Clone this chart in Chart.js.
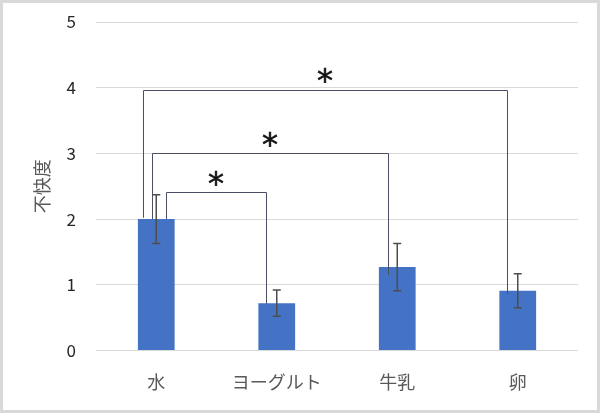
<!DOCTYPE html>
<html>
<head>
<meta charset="utf-8">
<script src="https://cdn.jsdelivr.net/npm/chart.js@4/dist/chart.umd.min.js"></script>
<style>
html,body{margin:0;padding:0;background:#fff;}
#wrap{width:600px;height:413px;position:relative;}
</style>
</head>
<body>
<div id="wrap"><canvas id="c" width="600" height="413"></canvas></div>
<script>
// ---- data ----
const categories = ['水', 'ヨーグルト', '牛乳', '卵'];
const values = [2.0, 0.72, 1.27, 0.91];
const errors = [0.37, 0.20, 0.36, 0.26];
const yTickValues = [0, 1, 2, 3, 4, 5];
const yTitle = '不快度';
// significance brackets: from category, to category, level, end values
const bracketFrom = [0, 0, 0];
const bracketTo = [1, 2, 3];
const bracketLevel = [2.41, 3.0, 3.97];
const bracketFromEnd = [2.0, 2.0, 2.02];
const bracketToEnd = [0.71, 1.15, 0.86];
const bracketLabel = ['*', '*', '*'];

// ---- style / layout config (not data) ----
const bracketFromShift = [0.08, -0.036, -0.11];   // in category units
const bracketToShift = [-0.09, -0.077, -0.09];

const FONT = "'Noto Sans CJK JP', 'Noto Sans', sans-serif";

const decor = {
  id: 'decor',
  beforeDraw(chart) {
    const ctx = chart.ctx;
    ctx.save();
    ctx.fillStyle = '#fff';
    ctx.fillRect(0, 0, chart.width, chart.height);
    ctx.restore();
  },
  afterDatasetsDraw(chart) {
    const ctx = chart.ctx;
    const xs = chart.scales.x, ys = chart.scales.y;
    const step = xs.getPixelForValue(1) - xs.getPixelForValue(0);
    // error bars
    ctx.save();
    ctx.strokeStyle = '#4d4d4d';
    ctx.lineWidth = 1.5;
    values.forEach((v, i) => {
      const x = xs.getPixelForValue(i);
      const yt = ys.getPixelForValue(v + errors[i]);
      const yb = ys.getPixelForValue(v - errors[i]);
      ctx.beginPath();
      ctx.moveTo(x, yt); ctx.lineTo(x, yb);
      ctx.moveTo(x - 4, yt); ctx.lineTo(x + 4, yt);
      ctx.moveTo(x - 4, yb); ctx.lineTo(x + 4, yb);
      ctx.stroke();
    });
    ctx.restore();
    // brackets
    ctx.save();
    ctx.strokeStyle = '#4a4f66';
    ctx.lineWidth = 1;
    bracketFrom.forEach((f, i) => {
      const x1 = xs.getPixelForValue(f) + bracketFromShift[i] * step;
      const x2 = xs.getPixelForValue(bracketTo[i]) + bracketToShift[i] * step;
      const yL = ys.getPixelForValue(bracketLevel[i]);
      const y1 = ys.getPixelForValue(bracketFromEnd[i]);
      const y2 = ys.getPixelForValue(bracketToEnd[i]);
      ctx.beginPath();
      ctx.moveTo(Math.round(x1) + 0.5, y1);
      ctx.lineTo(Math.round(x1) + 0.5, Math.round(yL) + 0.5);
      ctx.lineTo(Math.round(x2) + 0.5, Math.round(yL) + 0.5);
      ctx.lineTo(Math.round(x2) + 0.5, y2);
      ctx.stroke();
      // star
      ctx.fillStyle = '#111';
      ctx.strokeStyle = '#111';
      ctx.lineWidth = 0.6;
      ctx.font = "32px 'DejaVu Sans', sans-serif";
      ctx.textAlign = 'center';
      ctx.textBaseline = 'alphabetic';
      const m = ctx.measureText(bracketLabel[i]);
      const cy = yL - 14;
      const base = cy + (m.actualBoundingBoxAscent - m.actualBoundingBoxDescent) / 2;
      ctx.fillText(bracketLabel[i], (x1 + x2) / 2, base);
      ctx.strokeText(bracketLabel[i], (x1 + x2) / 2, base);
      ctx.strokeStyle = '#4a4f66';
      ctx.lineWidth = 1;
    });
    ctx.restore();
  },
  afterDraw(chart) {
    const ctx = chart.ctx;
    ctx.save();
    ctx.strokeStyle = '#d9d9d9';
    ctx.lineWidth = 3;
    ctx.strokeRect(1.5, 1.5, chart.width - 3, chart.height - 3);
    ctx.restore();
  }
};

new Chart(document.getElementById('c'), {
  type: 'bar',
  data: {
    labels: categories,
    datasets: [{
      data: values,
      backgroundColor: '#4472c4',
      borderWidth: 0,
      barPercentage: 0.305,
      categoryPercentage: 1.0
    }]
  },
  options: {
    responsive: false,
    animation: false,
    devicePixelRatio: 1,
    layout: { padding: { left: 0, right: 22, top: 22, bottom: 0 } },
    plugins: { legend: { display: false }, tooltip: { enabled: false } },
    scales: {
      x: {
        grid: { display: false, drawTicks: false },
        border: { display: false },
        ticks: { color: '#595959', font: { family: FONT, size: 18 }, padding: 21 },
        afterFit(s) { s.height = 62.5; s.paddingLeft = 0; s.paddingRight = 0; }
      },
      y: {
        min: 0, max: 5,
        afterBuildTicks(s) { s.ticks = yTickValues.map(v => ({ value: v })); },
        grid: { color: '#d9d9d9', lineWidth: 1, drawTicks: false },
        border: { display: false },
        ticks: { color: '#262626', font: { family: FONT, size: 17 }, padding: 20 },
        title: { display: true, text: yTitle, color: '#595959', font: { family: FONT, size: 18 }, padding: { top: 31, bottom: 0 } },
        afterFit(s) { s.width = 96; s.paddingTop = 0; s.paddingBottom = 0; }
      }
    }
  },
  plugins: [decor]
});
</script>
</body>
</html>
